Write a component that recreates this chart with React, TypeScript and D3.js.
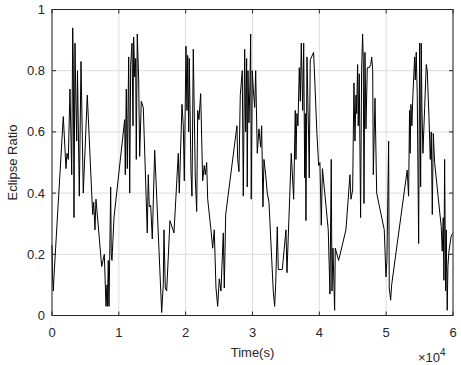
import React from 'react';
import * as d3 from 'd3';

// sample times (s) and eclipse ratio
const timeSec = [
  0, 100, 200, 300, 1690, 2095, 2245, 2440, 2690, 2950, 3100, 3190, 3290, 3440, 3545, 3695, 3815,
  4085, 4340, 4680, 5280, 5940, 6090, 6240, 6430, 6580, 7435, 7825, 8080, 8230, 8300, 8420, 8530,
  8630, 8780, 8870, 8975, 9275, 10875, 10965, 11115, 11265, 11475, 11625, 11775, 11970, 12120,
  12220, 12370, 12520, 12610, 12760, 12970, 13120, 13360, 13660, 14255, 14405, 14555, 14765, 15005,
  15365, 16410, 16650, 16755, 16950, 17160, 17650, 18250, 18895, 19045, 19450, 19645, 19795, 20045,
  20195, 20300, 20450, 20540, 20795, 20945, 21140, 21440, 21650, 21800, 21990, 22245, 22545, 22785,
  22935, 23145, 23295, 23785, 24040, 24280, 24535, 24790, 25030, 25280, 25630, 25780, 25990, 27675,
  27780, 27975, 28170, 28470, 28620, 28830, 28980, 29125, 29215, 29320, 29470, 29620, 29725, 29815,
  29965, 30115, 30325, 30475, 30715, 30970, 31220, 31370, 31565, 31715, 31970, 32210, 32465, 33105,
  33315, 33465, 33710, 33860, 34455, 35010, 35160, 35800, 36160, 36400, 36500, 36650, 36800, 37000,
  37150, 37300, 37510, 37660, 37810, 37900, 38000, 38150, 38400, 38490, 38640, 39145, 39640, 39895,
  40090, 40290, 40465, 41335, 41590, 41785, 41890, 42040, 42290, 42385, 42890, 43980, 44580, 44730,
  44985, 45180, 45330, 45480, 45580, 45730, 45820, 45970, 46175, 46325, 46475, 46575, 46680, 46830,
  46980, 47175, 47475, 47685, 47835, 47985, 48075, 48330, 48580, 49715, 49970, 50115, 50370, 50460,
  50670, 50820, 53145, 53355, 53500, 53590, 53700, 53850, 54000, 54260, 54350, 54500, 54650, 54860,
  55010, 55160, 55250, 55350, 55500, 55760, 56000, 56150, 56400, 56600, 56750, 56900, 57050, 57250,
  58240, 58390, 58540, 58640, 58745, 58895, 58985, 59135, 59240, 59390, 59735, 60000,
];

const ratio = [
  0.23, 0.12, 0.08, 0.13, 0.65, 0.48, 0.53, 0.51, 0.74, 0.46, 0.94, 0.82, 0.32, 0.89, 0.74, 0.57, 0.8,
  0.39, 0.83, 0.4, 0.72, 0.4, 0.33, 0.37, 0.28, 0.38, 0.16, 0.2, 0.03, 0.1, 0.03, 0.18, 0.03,
  0.18, 0.42, 0.2, 0.18, 0.32, 0.64, 0.46, 0.74, 0.48, 0.845, 0.4, 0.82, 0.89, 0.62,
  0.91, 0.78, 0.84, 0.51, 0.92, 0.77, 0.52, 0.7, 0.68, 0.27, 0.46, 0.355, 0.36, 0.25,
  0.54, 0.01, 0.1, 0.28, 0.09, 0.08, 0.31, 0.27, 0.53, 0.4, 0.69, 0.62, 0.44, 0.88,
  0.67, 0.85, 0.6, 0.84, 0.47, 0.39, 0.87, 0.45, 0.34, 0.67, 0.64, 0.725, 0.44, 0.49,
  0.46, 0.5, 0.38, 0.28, 0.22, 0.28, 0.09, 0.03, 0.12, 0.08, 0.27, 0.09, 0.33, 0.62,
  0.51, 0.47, 0.72, 0.8, 0.39, 0.87, 0.6, 0.84, 0.42, 0.8, 0.63, 0.76, 0.92, 0.38,
  0.8, 0.74, 0.68, 0.8, 0.53, 0.61, 0.55, 0.62, 0.355, 0.51, 0.46, 0.4, 0.37, 0.08,
  0.03, 0.1, 0.29, 0.15, 0.15, 0.28, 0.14, 0.53, 0.38, 0.67, 0.51, 0.66, 0.62, 0.81,
  0.7, 0.89, 0.67, 0.89, 0.45, 0.66, 0.31, 0.845, 0.58, 0.45, 0.835, 0.86, 0.595, 0.49,
  0.5, 0.295, 0.48, 0.28, 0.07, 0.51, 0.08, 0.22, 0.017, 0.22, 0.18, 0.28, 0.46, 0.38,
  0.41, 0.76, 0.57, 0.72, 0.66, 0.82, 0.62, 0.79, 0.32, 0.8, 0.92, 0.84, 0.366, 0.86,
  0.61, 0.81, 0.81, 0.82, 0.845, 0.8, 0.46, 0.71, 0.4, 0.28, 0.126, 0.18, 0.57, 0.09,
  0.05, 0.1, 0.475, 0.39, 0.67, 0.53, 0.69, 0.62, 0.72, 0.845, 0.77, 0.86, 0.72, 0.235,
  0.89, 0.42, 0.89, 0.68, 0.53, 0.68, 0.82, 0.8, 0.65, 0.51, 0.6, 0.33, 0.595, 0.5,
  0.29, 0.21, 0.32, 0.115, 0.51, 0.08, 0.28, 0.017, 0.16, 0.21, 0.26, 0.27,
];

const xTicks = [0, 10000, 20000, 30000, 40000, 50000, 60000];
const yTicks = [0, 0.2, 0.4, 0.6, 0.8, 1];

const W = 461;
const H = 365;
const left = 52;
const right = 453;
const top = 9.5;
const bottom = 315.5;
const font = '"Liberation Sans", Arial, Helvetica, sans-serif';
const axisColor = '#262626';

export default function App() {
  const x = d3.scaleLinear().domain([0, 60000]).range([left, right]);
  const y = d3.scaleLinear().domain([0, 1]).range([bottom, top]);

  const pts: [number, number][] = timeSec.map((t, i) => [t, ratio[i]]);
  const line = d3
    .line<[number, number]>()
    .x((d) => x(d[0]))
    .y((d) => y(d[1]));

  return (
    <svg
      width={W}
      height={H}
      style={{ position: 'absolute', left: 0, top: 0, background: '#fff' }}
      fontFamily={font}
    >
      <rect x={0} y={0} width={W} height={H} fill="#fff" />
      {/* grid */}
      {xTicks.map((t) => (
        <line key={'gx' + t} x1={x(t)} x2={x(t)} y1={top} y2={bottom} stroke="#dedede" strokeWidth={1} />
      ))}
      {yTicks.map((t) => (
        <line key={'gy' + t} x1={left} x2={right} y1={y(t)} y2={y(t)} stroke="#dedede" strokeWidth={1} />
      ))}

      <path d={line(pts) || ''} fill="none" stroke="#000" strokeWidth={1} strokeLinejoin="round" />

      {/* box */}
      <rect x={left} y={top} width={right - left} height={bottom - top} fill="none" stroke={axisColor} strokeWidth={1} />
      {xTicks.map((t) => (
        <g key={'tx' + t}>
          <line x1={x(t)} x2={x(t)} y1={bottom} y2={bottom - 4} stroke={axisColor} />
          <line x1={x(t)} x2={x(t)} y1={top} y2={top + 4} stroke={axisColor} />
          <text x={x(t)} y={337} textAnchor="middle" fontSize={13} fill={axisColor}>
            {t / 10000}
          </text>
        </g>
      ))}
      {yTicks.map((t) => (
        <g key={'ty' + t}>
          <line x1={left} x2={left + 4} y1={y(t)} y2={y(t)} stroke={axisColor} />
          <line x1={right} x2={right - 4} y1={y(t)} y2={y(t)} stroke={axisColor} />
          <text x={45} y={y(t) + 4.5} textAnchor="end" fontSize={13} fill={axisColor}>
            {String(t)}
          </text>
        </g>
      ))}

      <text x={(left + right) / 2} y={357} textAnchor="middle" fontSize={13} fill={axisColor}>
        Time(s)
      </text>
      <text
        transform={`translate(17,${(top + bottom) / 2}) rotate(-90)`}
        textAnchor="middle"
        fontSize={13}
        fill={axisColor}
      >
        Eclipse Ratio
      </text>
      <text x={418} y={362} fontSize={13} fill={axisColor}>
        ×10
        <tspan dy={-6} fontSize={10}>
          4
        </tspan>
      </text>
    </svg>
  );
}
